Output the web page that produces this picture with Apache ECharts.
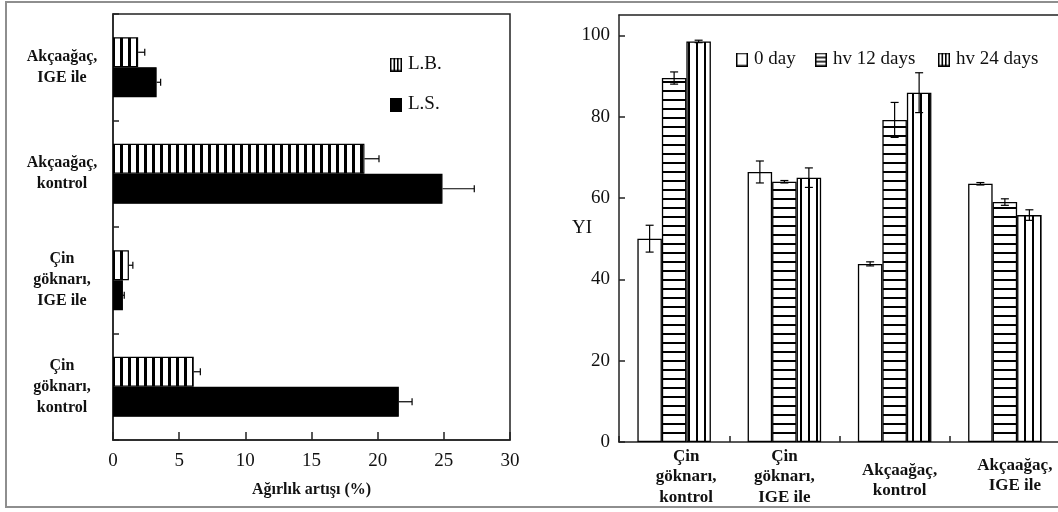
<!DOCTYPE html>
<html>
<head>
<meta charset="utf-8">
<script src="https://cdn.jsdelivr.net/npm/echarts@6/dist/echarts.min.js"></script>
<style>
  html, body { margin: 0; padding: 0; background: #fff; overflow: hidden; }
  #chart { width: 1058px; height: 512px; }
</style>
</head>
<body>
<div id="chart"></div>
<script>
// Weight gain (%) — horizontal bars; categories run bottom to top
const weightCategories = ['Çin\ngöknarı,\nkontrol', 'Çin\ngöknarı,\nIGE ile', 'Akçaağaç,\nkontrol', 'Akçaağaç,\nIGE ile'];
const lbValues = [6.1, 1.2, 19.0, 1.9];
const lbErrors = [0.5, 0.3, 1.1, 0.5];
const lsValues = [21.6, 0.75, 24.9, 3.3];
const lsErrors = [1.0, 0.1, 2.4, 0.3];
const weightTicks = [0, 5, 10, 15, 20, 25, 30];

// Yellowness index (YI) after light exposure
const yiCategories = ['Çin\ngöknarı,\nkontrol', 'Çin\ngöknarı,\nIGE ile', 'Akçaağaç,\nkontrol', 'Akçaağaç,\nIGE ile'];
const day0Values = [50.0, 66.4, 43.8, 63.5];
const day0Errors = [3.3, 2.7, 0.5, 0.3];
const hv12Values = [89.5, 64.0, 79.2, 59.0];
const hv12Errors = [1.5, 0.3, 4.3, 0.8];
const hv24Values = [98.5, 65.0, 85.9, 55.8];
const hv24Errors = [0.3, 2.4, 4.9, 1.3];
const yiTicks = [0, 20, 40, 60, 80, 100];

const SERIF = '"Liberation Serif", "Times New Roman", serif';
const INK = '#111';

// Striped fills
function stripes(period, thick, vertical) {
  const c = document.createElement('canvas');
  c.width = vertical ? period : 4;
  c.height = vertical ? 4 : period;
  const g = c.getContext('2d');
  g.fillStyle = '#fff';
  g.fillRect(0, 0, c.width, c.height);
  g.fillStyle = '#000';
  if (vertical) g.fillRect(0, 0, thick, c.height);
  else g.fillRect(0, 0, c.width, thick);
  return { image: c, repeat: 'repeat' };
}

// Small legend swatches
function swatch(kind) {
  const w = 12, h = 14;
  const c = document.createElement('canvas');
  c.width = w; c.height = h;
  const g = c.getContext('2d');
  g.fillStyle = '#fff';
  g.fillRect(0, 0, w, h);
  g.fillStyle = '#000';
  if (kind === 'solid') {
    g.fillRect(0, 0, w, h);
  } else {
    g.strokeStyle = '#000';
    g.lineWidth = 1.5;
    g.strokeRect(0.75, 0.75, w - 1.5, h - 1.5);
    if (kind === 'v') {
      g.fillRect(3.5, 0, 1.6, h);
      g.fillRect(7, 0, 1.6, h);
    } else if (kind === 'h') {
      g.fillRect(0, 4.2, w, 1.6);
      g.fillRect(0, 8.4, w, 1.6);
    }
  }
  return 'image://' + c.toDataURL();
}

// Error bars drawn over grouped bars; offset is the bar centre shift in pixels
function errorBars(values, errors, offset, horizontal, twoSided, axisIndex) {
  return {
    type: 'custom',
    xAxisIndex: axisIndex,
    yAxisIndex: axisIndex,
    z: 10,
    silent: true,
    data: values.map((v, i) => horizontal ? [v, i, errors[i]] : [i, v, errors[i]]),
    renderItem(params, api) {
      const style = { stroke: '#000', lineWidth: 1.2, fill: null };
      if (horizontal) {
        const v = api.value(0), i = api.value(1), e = api.value(2);
        const a = api.coord([twoSided ? v - e : v, i]);
        const b = api.coord([v + e, i]);
        const y = a[1] + offset, cap = 3.5;
        return { type: 'group', children: [
          { type: 'line', shape: { x1: a[0], y1: y, x2: b[0], y2: y }, style },
          { type: 'line', shape: { x1: b[0], y1: y - cap, x2: b[0], y2: y + cap }, style }
        ] };
      }
      const i = api.value(0), v = api.value(1), e = api.value(2);
      const top = api.coord([i, v + e]);
      const bot = api.coord([i, twoSided ? v - e : v]);
      const x = top[0] + offset, cap = 4;
      return { type: 'group', children: [
        { type: 'line', shape: { x1: x, y1: top[1], x2: x, y2: bot[1] }, style },
        { type: 'line', shape: { x1: x - cap, y1: top[1], x2: x + cap, y2: top[1] }, style },
        { type: 'line', shape: { x1: x - cap, y1: bot[1], x2: x + cap, y2: bot[1] }, style }
      ] };
    }
  };
}

const lbFill = stripes(8, 3, true);
const hv12Fill = stripes(9, 2, false);
const hv24Fill = stripes(8, 2, true);

const LEFT_BAR = 30;
const RIGHT_BAR = 24.5;

// Per-label nudges for the multi-line category names
const weightLabelPad = [[8, 0, 0, 0], [18, 0, 0, 0], [7, 0, 0, 0], [8, 0, 0, 0]];
const yiLabelPad = [[0, 0, 0, 24], [0, 0, 0, 0], [14, 0, 0, 10], [9, 0, 0, 20]];

const axisLineStyle = { color: '#222', width: 1.5 };

function legendBox(name, icon, left, top) {
  return {
    data: [{ name, icon }],
    left, top,
    itemWidth: 12, itemHeight: 14,
    selectedMode: false,
    padding: 0,
    textStyle: { fontFamily: SERIF, fontSize: 19, color: INK, lineHeight: 14, padding: [0, 0, 0, 1] }
  };
}

const chart = echarts.init(document.getElementById('chart'), null, { renderer: 'canvas' });

chart.setOption({
  backgroundColor: '#fff',
  animation: false,
  graphic: [{
    // page frame: open on the right, where it runs off the page
    type: 'polyline',
    shape: { points: [[1080, 2], [6, 2], [6, 507], [1080, 507]] },
    style: { fill: null, stroke: '#8e8e8e', lineWidth: 2 },
    silent: true
  }],
  legend: [
    legendBox('L.B.', swatch('v'), 390, 55),
    legendBox('L.S.', swatch('solid'), 390, 95),
    legendBox('0 day', swatch('open'), 736, 50),
    legendBox('hv 12 days', swatch('h'), 815, 50),
    legendBox('hv 24 days', swatch('v'), 938, 50)
  ],
  grid: [
    { left: 113, top: 14, width: 397, height: 426, show: true, borderColor: '#222', borderWidth: 1.5,
      containLabel: false, outerBoundsMode: 'none' },
    // right panel is framed by its axes only; its right side runs off the page
    { left: 619, top: 15, width: 441, height: 427, show: false,
      containLabel: false, outerBoundsMode: 'none' }
  ],
  xAxis: [
    {
      type: 'value', gridIndex: 0,
      min: weightTicks[0], max: weightTicks[weightTicks.length - 1], interval: weightTicks[1] - weightTicks[0],
      axisLine: { show: true, lineStyle: axisLineStyle },
      axisTick: { show: true, inside: true, length: 8, lineStyle: axisLineStyle },
      splitLine: { show: false },
      axisLabel: { fontFamily: SERIF, fontSize: 19, color: INK, margin: 12 },
      name: 'Ağırlık artışı (%)', nameLocation: 'middle', nameGap: 42, nameMoveOverlap: false,
      nameTextStyle: { fontFamily: SERIF, fontSize: 16, fontWeight: 'bold', color: INK }
    },
    {
      type: 'category', gridIndex: 1,
      data: yiCategories.map((c, i) => ({ value: c, textStyle: { padding: yiLabelPad[i] } })),
      axisLine: { show: true, lineStyle: axisLineStyle },
      axisTick: { show: true, inside: true, length: 6, alignWithLabel: false, lineStyle: axisLineStyle },
      splitLine: { show: false },
      axisLabel: { fontFamily: SERIF, fontSize: 17, fontWeight: 'bold', color: INK, lineHeight: 20.5, margin: 4, interval: 0 }
    },
    {
      // top edge of the right panel
      type: 'category', gridIndex: 1, position: 'top',
      data: yiCategories,
      axisLine: { show: true, lineStyle: axisLineStyle },
      axisTick: { show: false },
      axisLabel: { show: false },
      splitLine: { show: false }
    }
  ],
  yAxis: [
    {
      type: 'category', gridIndex: 0,
      data: weightCategories.map((c, i) => ({ value: c, textStyle: { padding: weightLabelPad[i], align: 'center' } })),
      axisLine: { show: true, lineStyle: axisLineStyle },
      axisTick: { show: true, inside: true, length: 6, alignWithLabel: false, lineStyle: axisLineStyle },
      splitLine: { show: false },
      axisLabel: { fontFamily: SERIF, fontSize: 16, fontWeight: 'bold', color: INK, lineHeight: 21, align: 'center', margin: 51, interval: 0 }
    },
    {
      type: 'value', gridIndex: 1,
      min: yiTicks[0], max: 105, interval: yiTicks[1] - yiTicks[0],
      axisLine: { show: true, lineStyle: axisLineStyle },
      axisTick: { show: true, inside: true, length: 6, lineStyle: axisLineStyle },
      splitLine: { show: false },
      axisLabel: { fontFamily: SERIF, fontSize: 19, color: INK, margin: 9, showMaxLabel: false },
      name: 'YI', nameLocation: 'middle', nameRotate: 0, nameGap: 27, nameMoveOverlap: false,
      nameTextStyle: { fontFamily: SERIF, fontSize: 19, color: INK }
    }
  ],
  series: [
    { type: 'bar', name: 'L.B.', xAxisIndex: 0, yAxisIndex: 0, data: lbValues, barWidth: LEFT_BAR, barGap: '0%',
      itemStyle: { color: lbFill, borderColor: '#000', borderWidth: 1.2 } },
    { type: 'bar', name: 'L.S.', xAxisIndex: 0, yAxisIndex: 0, data: lsValues, barWidth: LEFT_BAR, barGap: '0%',
      itemStyle: { color: '#000', borderColor: '#000', borderWidth: 1.2 } },
    errorBars(lbValues, lbErrors, -LEFT_BAR / 2, true, false, 0),
    errorBars(lsValues, lsErrors, LEFT_BAR / 2, true, false, 0),

    { type: 'bar', name: '0 day', xAxisIndex: 1, yAxisIndex: 1, data: day0Values, barWidth: RIGHT_BAR, barGap: '0%',
      itemStyle: { color: '#fff', borderColor: '#000', borderWidth: 1.3 } },
    { type: 'bar', name: 'hv 12 days', xAxisIndex: 1, yAxisIndex: 1, data: hv12Values, barWidth: RIGHT_BAR, barGap: '0%',
      itemStyle: { color: hv12Fill, borderColor: '#000', borderWidth: 1.3 } },
    { type: 'bar', name: 'hv 24 days', xAxisIndex: 1, yAxisIndex: 1, data: hv24Values, barWidth: RIGHT_BAR, barGap: '0%',
      itemStyle: { color: hv24Fill, borderColor: '#000', borderWidth: 1.3 } },
    errorBars(day0Values, day0Errors, -RIGHT_BAR, false, true, 1),
    errorBars(hv12Values, hv12Errors, 0, false, true, 1),
    errorBars(hv24Values, hv24Errors, RIGHT_BAR, false, true, 1)
  ]
});
</script>
</body>
</html>
